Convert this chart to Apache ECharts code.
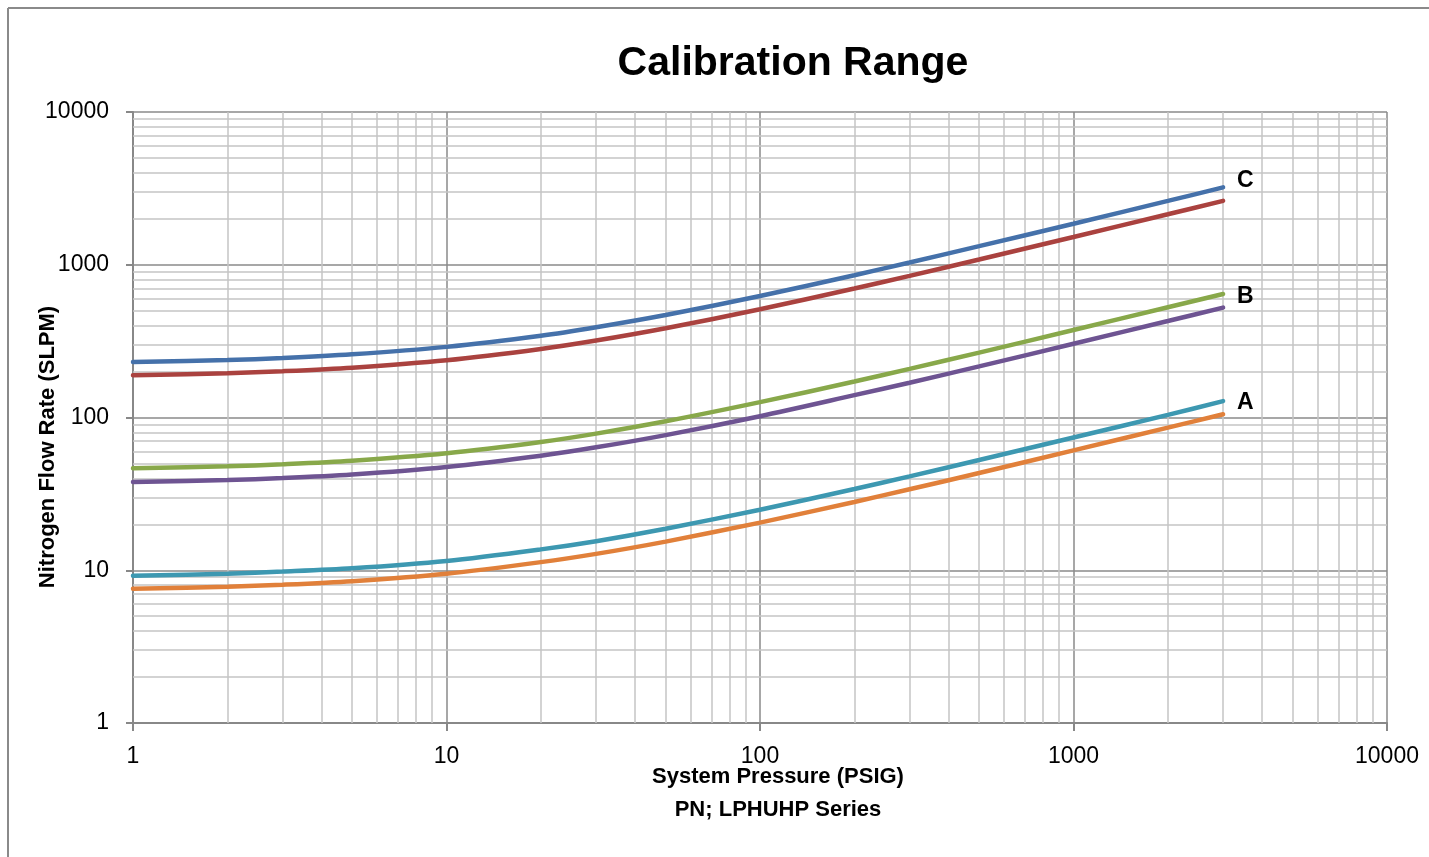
<!DOCTYPE html>
<html>
<head>
<meta charset="utf-8">
<script src="https://cdn.jsdelivr.net/npm/echarts@6/dist/echarts.min.js"></script>
<style>
html,body{margin:0;padding:0;background:#fff;}
#chart{width:1429px;height:857px;}
</style>
</head>
<body>
<div id="chart"></div>
<script>
// System pressure (PSIG) sample points
const pressure = [1, 2, 3, 5, 10, 20, 30, 50, 100, 200, 300, 500, 1000, 2000, 3000];
// Nitrogen flow rate (SLPM)
const rangeCHigh = [231, 238, 245, 259, 290, 343, 390, 469, 624, 854, 1034, 1323, 1857, 2617, 3210];
const rangeCLow  = [189, 195, 201, 212, 237, 281, 319, 384, 511, 699, 846, 1082, 1519, 2141, 2620];
const rangeBHigh = [46.5, 47.9, 49.4, 52.1, 58.3, 69.1, 78.4, 94.4, 126, 172, 208, 266, 374, 527, 644];
const rangeBLow  = [37.8, 39.0, 40.1, 42.3, 47.4, 56.2, 63.8, 76.7, 102, 140, 169, 216, 304, 428, 524];
const rangeAHigh = [9.2, 9.5, 9.8, 10.3, 11.5, 13.7, 15.5, 18.7, 24.9, 34.0, 41.2, 52.7, 74.0, 104, 128];
const rangeALow  = [7.57, 7.8, 8.04, 8.48, 9.49, 11.3, 12.8, 15.4, 20.5, 28.0, 33.9, 43.3, 60.9, 85.8, 105];
const xTicks = [1, 10, 100, 1000, 10000];
const yTicks = [1, 10, 100, 1000, 10000];
const rangeLabels = ['C', 'B', 'A'];

const minorSteps = [2, 3, 4, 5, 6, 7, 8, 9];
function minorValues(ticks) {
  const out = [];
  for (let i = 0; i < ticks.length - 1; i++) {
    for (const s of minorSteps) out.push(ticks[i] * s);
  }
  return out;
}
function pairs(ys) { return pressure.map((p, i) => [p, ys[i]]); }

const FONT = "'Liberation Sans', Arial, sans-serif";
const chart = echarts.init(document.getElementById('chart'), null, {renderer: 'canvas'});

function lineSeries(name, data, color, label, offset) {
  const s = {
    name: name,
    type: 'line',
    data: pairs(data),
    smooth: 0.3,
    showSymbol: false,
    symbol: 'none',
    z: 5,
    lineStyle: {color: color, width: 4.5, cap: 'round'},
    itemStyle: {color: color}
  };
  if (label) {
    s.endLabel = {
      show: true,
      formatter: label,
      color: '#000',
      fontFamily: FONT,
      fontWeight: 'bold',
      fontSize: 23,
      distance: 14,
      offset: offset
    };
  }
  return s;
}

const minorLineStyle = {color: '#c4c4c4', width: 1.5, type: 'solid'};

const option = {
  animation: false,
  backgroundColor: '#fff',
  title: {
    text: 'Calibration Range',
    left: 788,
    top: 38,
    textAlign: 'center',
    textStyle: {fontFamily: FONT, fontWeight: 'bold', fontSize: 41, color: '#000'}
  },
  grid: {left: 133, right: 42, top: 112, bottom: 134, containLabel: false},
  xAxis: {
    type: 'log',
    logBase: 10,
    min: xTicks[0],
    max: xTicks[xTicks.length - 1],
    axisLine: {show: true, lineStyle: {color: '#888', width: 2}},
    axisTick: {show: true, length: 8, lineStyle: {color: '#888', width: 2}},
    axisLabel: {
      fontFamily: FONT, fontSize: 23, color: '#000', margin: 22,
      formatter: v => String(Math.round(v)),
      showMinLabel: true, showMaxLabel: true
    },
    splitLine: {show: true, lineStyle: {color: '#8a8a8a', width: 1.5}},
    minorTick: {show: false},
    minorSplitLine: {show: false}
  },
  yAxis: {
    type: 'log',
    logBase: 10,
    min: yTicks[0],
    max: yTicks[yTicks.length - 1],
    axisLine: {show: true, lineStyle: {color: '#888', width: 2}},
    axisTick: {show: true, length: 7, lineStyle: {color: '#888', width: 2}},
    axisLabel: {
      fontFamily: FONT, fontSize: 23, color: '#000', margin: 24,
      formatter: v => String(Math.round(v))
    },
    splitLine: {show: true, lineStyle: {color: '#8a8a8a', width: 1.5}}
  },
  graphic: [
    {type: 'line', shape: {x1: 8, y1: 8, x2: 1429, y2: 8}, style: {stroke: '#8a8a8a', lineWidth: 2}, silent: true},
    {type: 'line', shape: {x1: 8, y1: 8, x2: 8, y2: 857}, style: {stroke: '#8a8a8a', lineWidth: 2}, silent: true},
    {type: 'text', x: 48, y: 447, rotation: Math.PI / 2,
     style: {text: 'Nitrogen Flow Rate (SLPM)', fontFamily: FONT, fontWeight: 'bold', fontSize: 22, fill: '#000', textAlign: 'center', textVerticalAlign: 'middle'}},
    {type: 'text', x: 778, y: 777,
     style: {text: 'System Pressure (PSIG)', fontFamily: FONT, fontWeight: 'bold', fontSize: 22, fill: '#000', textAlign: 'center', textVerticalAlign: 'middle'}},
    {type: 'text', x: 778, y: 810,
     style: {text: 'PN; LPHUHP Series', fontFamily: FONT, fontWeight: 'bold', fontSize: 22, fill: '#000', textAlign: 'center', textVerticalAlign: 'middle'}}
  ],
  series: [
    {
      name: 'minor-grid',
      type: 'line',
      data: [],
      z: 1,
      silent: true,
      markLine: {
        silent: true,
        symbol: ['none', 'none'],
        label: {show: false},
        lineStyle: minorLineStyle,
        animation: false,
        data: minorValues(xTicks).map(v => ({xAxis: v})).concat(minorValues(yTicks).map(v => ({yAxis: v})))
      }
    },
    lineSeries('C high', rangeCHigh, '#4571AA', rangeLabels[0], [0, -7]),
    lineSeries('C low', rangeCLow, '#AA423F', null),
    lineSeries('B high', rangeBHigh, '#88A84A', rangeLabels[1], [0, 3]),
    lineSeries('B low', rangeBLow, '#6E5492', null),
    lineSeries('A high', rangeAHigh, '#3D98B1', rangeLabels[2], [0, 2]),
    lineSeries('A low', rangeALow, '#E1803A', null)
  ]
};
chart.setOption(option);
</script>
</body>
</html>
